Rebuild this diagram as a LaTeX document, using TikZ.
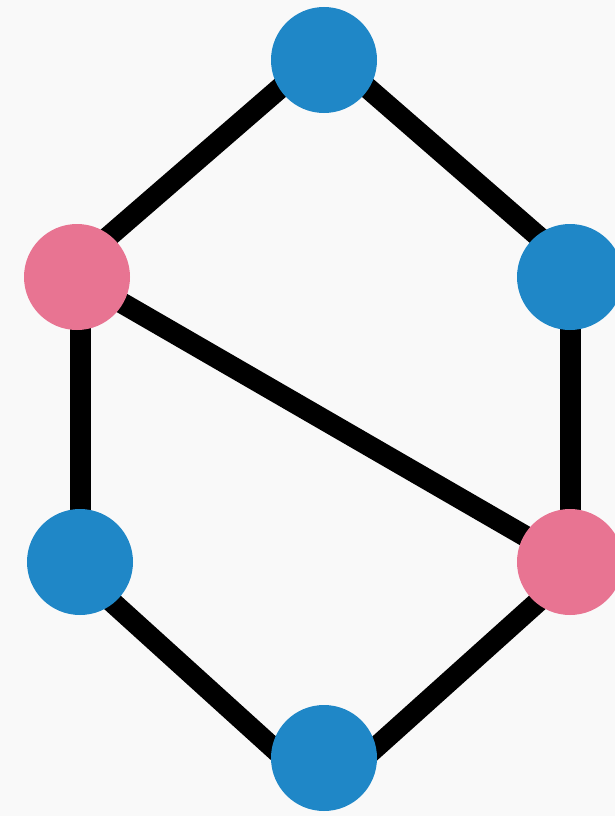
\documentclass[tikz,border=0pt]{standalone}
\definecolor{bg}{HTML}{F9F9F9}
\definecolor{nblue}{HTML}{1F87C7}
\definecolor{npink}{HTML}{E87492}
\pgfdeclarelayer{bgl}
\pgfdeclarelayer{edg}
\pgfsetlayers{bgl,edg,main}
\tikzset{
  vtx/.style={circle,minimum size=106pt,inner sep=0pt,draw=none},
  bluev/.style={vtx,fill=nblue},
  pinkv/.style={vtx,fill=npink},
  edge/.style={line width=21pt,black}
}
\begin{document}
\begin{tikzpicture}[x=1pt,y=-1pt]
\useasboundingbox (0,0) rectangle (615,816);
\clip (0,0) rectangle (615,816);
\begin{pgfonlayer}{bgl}
\fill[bg] (0,0) rectangle (615,816);
\end{pgfonlayer}
\node[bluev] (t) at (324,60) {};
\node[pinkv] (lu) at (77,277) {};
\node[bluev] (ru) at (570,277) {};
\node[bluev] (ll) at (80,562) {};
\node[pinkv] (rl) at (570,562) {};
\node[bluev] (b) at (324,758) {};
\begin{pgfonlayer}{edg}
\draw[edge] ([yshift=10pt]t.center) -- ([yshift=13pt]lu.center);
\draw[edge] ([yshift=10pt]t.center) -- ([yshift=13pt]ru.center);
\draw[edge] (ll.center |- lu.center) -- (ll.center);
\draw[edge] (lu.center) -- (rl.center);
\draw[edge] (ru.center) -- (rl.center);
\draw[edge] ([yshift=-11pt]ll.center) -- ([yshift=-36pt]b.center);
\draw[edge] ([yshift=-11pt]rl.center) -- ([yshift=-36pt]b.center);
\end{pgfonlayer}
\end{tikzpicture}
\end{document}
